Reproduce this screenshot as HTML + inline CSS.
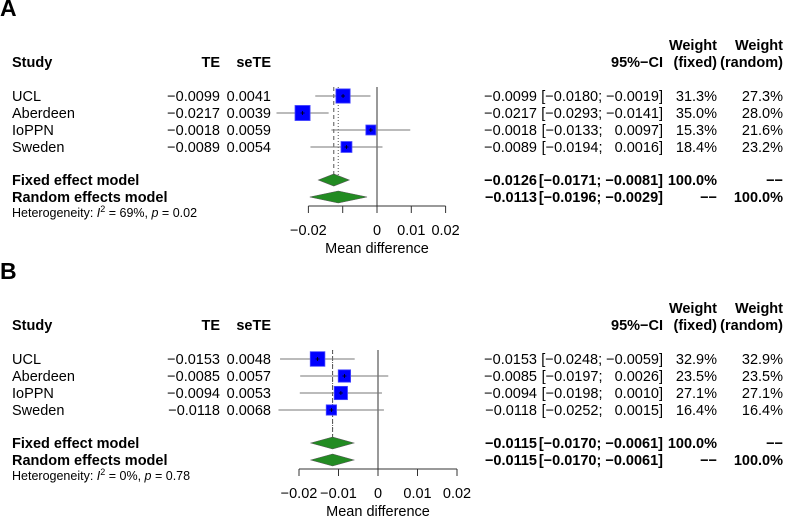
<!DOCTYPE html>
<html><head><meta charset="utf-8"><style>
html,body{margin:0;padding:0;background:#fff;}
svg{display:block;font-family:"Liberation Sans",Arial,sans-serif;}
</style></head><body>
<svg id="chart" width="786" height="518" viewBox="0 0 786 518" xmlns="http://www.w3.org/2000/svg"></svg>
<script>
// Panel A data
const studiesA = ["UCL","Aberdeen","IoPPN","Sweden"];
const teA = [-0.0099,-0.0217,-0.0018,-0.0089];
const seA = [0.0041,0.0039,0.0059,0.0054];
const lowA = [-0.0180,-0.0293,-0.0133,-0.0194];
const highA = [-0.0019,-0.0141,0.0097,0.0016];
const wFixedA = [31.3,35.0,15.3,18.4];
const wRandomA = [27.3,28.0,21.6,23.2];
const fixedA = [-0.0126,-0.0171,-0.0081];
const randomA = [-0.0113,-0.0196,-0.0029];
const hetA = ["69%","0.02"];
// Panel B data
const studiesB = ["UCL","Aberdeen","IoPPN","Sweden"];
const teB = [-0.0153,-0.0085,-0.0094,-0.0118];
const seB = [0.0048,0.0057,0.0053,0.0068];
const lowB = [-0.0248,-0.0197,-0.0198,-0.0252];
const highB = [-0.0059,0.0026,0.0010,0.0015];
const wFixedB = [32.9,23.5,27.1,16.4];
const wRandomB = [32.9,23.5,27.1,16.4];
const fixedB = [-0.0115,-0.0170,-0.0061];
const randomB = [-0.0115,-0.0170,-0.0061];
const hetB = ["0%","0.78"];
const ticks = [-0.02,-0.01,0,0.01,0.02];
const tickLabelsA = ["\u22120.02","","0","0.01","0.02"];
const tickLabelsB = ["\u22120.02","\u22120.01","0","0.01","0.02"];

const svg = document.getElementById('chart');
const NS = "http://www.w3.org/2000/svg";
const FS = 14.5;
function mk(tag, attrs, parent){const e=document.createElementNS(NS,tag);for(const k in attrs)e.setAttribute(k,attrs[k]);(parent||svg).appendChild(e);return e;}
function txt(s,x,y,o,parent){const t=mk('text',{x:x,y:y,'font-size':o.size||FS,'text-anchor':o.anchor||'start','font-weight':o.bold?'bold':'normal',fill:'#000'},parent);t.textContent=s;return t;}
const m = v => (v<0?"\u2212":"")+Math.abs(v).toFixed(4);
const ci = (l,h) => "["+m(l)+"; "+(h<0?"":"\u2007")+m(h)+"]";
const DASH = "\u2212\u2212";

function panel(cfg){
  const g = mk('g',{});
  
  
  const o = cfg.oy;
  const x = v => cfg.zero + v*cfg.scale;
  const lab = txt(cfg.label,0,o+16,{size:23,bold:true},g);
  
  
  const hd = mk('g',{},g);
  
  
  txt("Study",12,o+67,{bold:true},hd);
  txt("TE",220,o+67,{bold:true,anchor:'end'},hd);
  txt("seTE",271,o+67,{bold:true,anchor:'end'},hd);
  txt("95%\u2212CI",663,o+67,{bold:true,anchor:'end'},hd);
  txt("Weight",717,o+50,{bold:true,anchor:'end'},hd);
  txt("(fixed)",717,o+67,{bold:true,anchor:'end'},hd);
  txt("Weight",783,o+50,{bold:true,anchor:'end'},hd);
  txt("(random)",783,o+67,{bold:true,anchor:'end'},hd);
  const rowY = i => o+96+17*i;
  const yTop = o+87, yAx = o+206;
  mk('line',{x1:x(0),x2:x(0),y1:yTop,y2:yAx,stroke:'#555','stroke-width':1.2},g);
  mk('line',{x1:x(cfg.fixed[0]),x2:x(cfg.fixed[0]),y1:yTop,y2:rowY(5)+4,stroke:'#555','stroke-width':1,'stroke-dasharray':'4,3'},g);
  mk('line',{x1:x(cfg.random[0]),x2:x(cfg.random[0]),y1:yTop,y2:rowY(5)+4,stroke:'#555','stroke-width':1,'stroke-dasharray':'1,2'},g);
  cfg.studies.forEach((s,i)=>{
    const y = rowY(i);
    const r = mk('g',{},g);
    
    
    txt(s,12,y+5,{},r);
    txt(m(cfg.te[i]),220,y+5,{anchor:'end'},r);
    txt(cfg.se[i].toFixed(4),271,y+5,{anchor:'end'},r);
    txt(m(cfg.te[i]),537,y+5,{anchor:'end'},r);
    txt(ci(cfg.low[i],cfg.high[i]),663,y+5,{anchor:'end'},r);
    txt(cfg.wf[i].toFixed(1)+"%",717,y+5,{anchor:'end'},r);
    txt(cfg.wr[i].toFixed(1)+"%",783,y+5,{anchor:'end'},r);
    const l = mk('line',{x1:x(cfg.low[i]),x2:x(cfg.high[i]),y1:y,y2:y,stroke:'#777','stroke-width':1.1},r);
    
    const sz = Math.sqrt(cfg.wf[i])*2.55;
    const b = mk('rect',{x:x(cfg.te[i])-sz/2,y:y-sz/2,width:sz,height:sz,fill:'#0000ff',stroke:'#4a4aff','stroke-width':0.8},r);
    
    mk('line',{x1:x(cfg.te[i])-2,x2:x(cfg.te[i])+2,y1:y,y2:y,stroke:'#000','stroke-width':0.8},r);
    mk('line',{x1:x(cfg.te[i]),x2:x(cfg.te[i]),y1:y-2,y2:y+2,stroke:'#000','stroke-width':0.8},r);
  });
  [["Fixed effect model",cfg.fixed,"100.0%",DASH,"fixed"],["Random effects model",cfg.random,DASH,"100.0%","random"]].forEach((p,k)=>{
    const yy = o+180+17*k;
    const r = mk('g',{},g);
    
    
    txt(p[0],12,yy+5,{bold:true},r);
    txt(m(p[1][0]),537,yy+5,{bold:true,anchor:'end'},r);
    txt(ci(p[1][1],p[1][2]),663,yy+5,{bold:true,anchor:'end'},r);
    txt(p[2],717,yy+5,{bold:true,anchor:'end'},r);
    txt(p[3],783,yy+5,{bold:true,anchor:'end'},r);
    const d = mk('polygon',{points:[x(p[1][1])+','+yy,x(p[1][0])+','+(yy-6),x(p[1][2])+','+yy,x(p[1][0])+','+(yy+6)].join(' '),fill:'#228b22',stroke:'#555','stroke-width':0.6},r);
    
  });
  const h = txt("",12,o+217,{size:12.5},g);
  
  h.innerHTML = 'Heterogeneity: <tspan font-style="italic">I</tspan><tspan dy="-5" font-size="9">2</tspan><tspan dy="5"> = '+cfg.het[0]+', </tspan><tspan font-style="italic">p</tspan> = '+cfg.het[1];
  const ax = mk('g',{},g);
  
  
  mk('line',{x1:x(ticks[0]),x2:x(ticks[ticks.length-1]),y1:yAx,y2:yAx,stroke:'#333','stroke-width':1},ax);
  ticks.forEach((t,i)=>{
    mk('line',{x1:x(t),x2:x(t),y1:yAx,y2:yAx+7,stroke:'#333','stroke-width':1},ax);
    if(cfg.tl[i]) txt(cfg.tl[i],x(t),o+235,{anchor:'middle'},ax);
  });
  const at = txt("Mean difference",x(0),o+253,{anchor:'middle'},ax);
  
}
panel({name:'panel-a',label:'A',oy:0,zero:377,scale:3430,studies:studiesA,te:teA,se:seA,low:lowA,high:highA,wf:wFixedA,wr:wRandomA,fixed:fixedA,random:randomA,het:hetA,tl:tickLabelsA});
panel({name:'panel-b',label:'B',oy:263,zero:378,scale:3950,studies:studiesB,te:teB,se:seB,low:lowB,high:highB,wf:wFixedB,wr:wRandomB,fixed:fixedB,random:randomB,het:hetB,tl:tickLabelsB});
</script>
</body></html>
